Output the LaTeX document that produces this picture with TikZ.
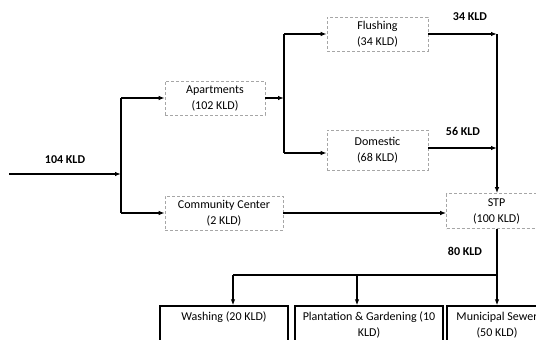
\documentclass[tikz,border=0pt]{standalone}
\usepackage{fontspec}
\setmainfont{Carlito}
\usetikzlibrary{arrows.meta}
\begin{document}
\begin{tikzpicture}[x=1pt,y=-1pt,
  every node/.style={font=\fontsize{12}{16}\selectfont},
  conn/.style={line width=1.2pt,black},
  arr/.style={conn,-{Latex[length=6pt,width=4.5pt]}},
  dbox/.style={draw=gray!70,densely dashed,line width=0.6pt,align=center,inner sep=0pt},
  sbox/.style={draw=black,line width=1.3pt,inner sep=0pt},
  flow/.style={font=\bfseries\fontsize{12}{14}\selectfont},
  txt/.style={align=center,inner sep=0pt}]
\path[use as bounding box] (0,0) rectangle (536,340);
\clip (0,0) rectangle (536,340);
% boxes
\node[dbox,minimum width=100pt,minimum height=34pt] (apt) at (215,98) {Apartments\\(102 KLD)};
\node[dbox,minimum width=101pt,minimum height=34pt] (flu) at (377.5,34) {Flushing\\(34 KLD)};
\node[dbox,minimum width=101pt,minimum height=40pt] (dom) at (377.5,150) {Domestic\\(68 KLD)};
\node[dbox,minimum width=118pt,minimum height=34pt] (cc) at (224,213) {Community Center\\(2 KLD)};
\node[dbox,minimum width=100pt,minimum height=35pt] (stp) at (496.5,211) {STP\\(100 KLD)};
\node[sbox,minimum width=128pt,minimum height=60pt] (wash) at (224,336) {};
\node[sbox,minimum width=148pt,minimum height=60pt] (plant) at (369,336) {};
\node[sbox,minimum width=110pt,minimum height=60pt] (mun) at (502,336) {};
\node[txt] (washt) at (224,317) {Washing (20 KLD)};
\node[txt] (plantt) at (369,325) {Plantation \& Gardening (10\\KLD)};
\node[txt] (munt) at (497,325) {Municipal Sewer\\(50 KLD)};
% coordinates
\coordinate (in) at (9,174);
\coordinate (j1) at (121,174);
\coordinate (j1t) at (121,98);
\coordinate (j1b) at (121,213);
\coordinate (j2t) at (284,34);
\coordinate (j2m) at (284,98);
\coordinate (j2b) at (284,153);
\coordinate (r1) at (497,34);
\coordinate (r2) at (497,148);
\coordinate (b0) at (497,275);
\coordinate (b1) at (233,275);
\coordinate (b2) at (357,275);
% connectors
\draw[arr] (in) -- (j1);
\draw[conn] (j1t) -- (j1b);
\draw[arr] (j1t) -- (apt.west);
\draw[arr] (j1b) -- (cc.west);
\draw[arr] (apt.east) -- (j2m);
\draw[conn] (j2t) -- (j2b);
\draw[arr] (j2t) -- (flu.west);
\draw[arr] (j2b) -- (j2b -| dom.west);
\draw[arr] (flu.east) -- (r1);
\draw[arr] (dom.east |- r2) -- (r2);
\draw[arr] (r1) -- (r1 |- stp.north);
\draw[arr] (cc.east) -- (cc.east -| stp.west);
\draw[arr] (r1 |- stp.south) -- (b0 |- mun.north);
\draw[conn] (b1) -- (b0);
\draw[arr] (b1) -- (b1 |- wash.north);
\draw[arr] (b2) -- (b2 |- plant.north);
% flow labels
\node[flow] (l104) at (65,160) {104 KLD};
\node[flow] (l34) at (470,17) {34 KLD};
\node[flow] (l56) at (463,131) {56 KLD};
\node[flow] (l80) at (465,251) {80 KLD};
\end{tikzpicture}
\end{document}
